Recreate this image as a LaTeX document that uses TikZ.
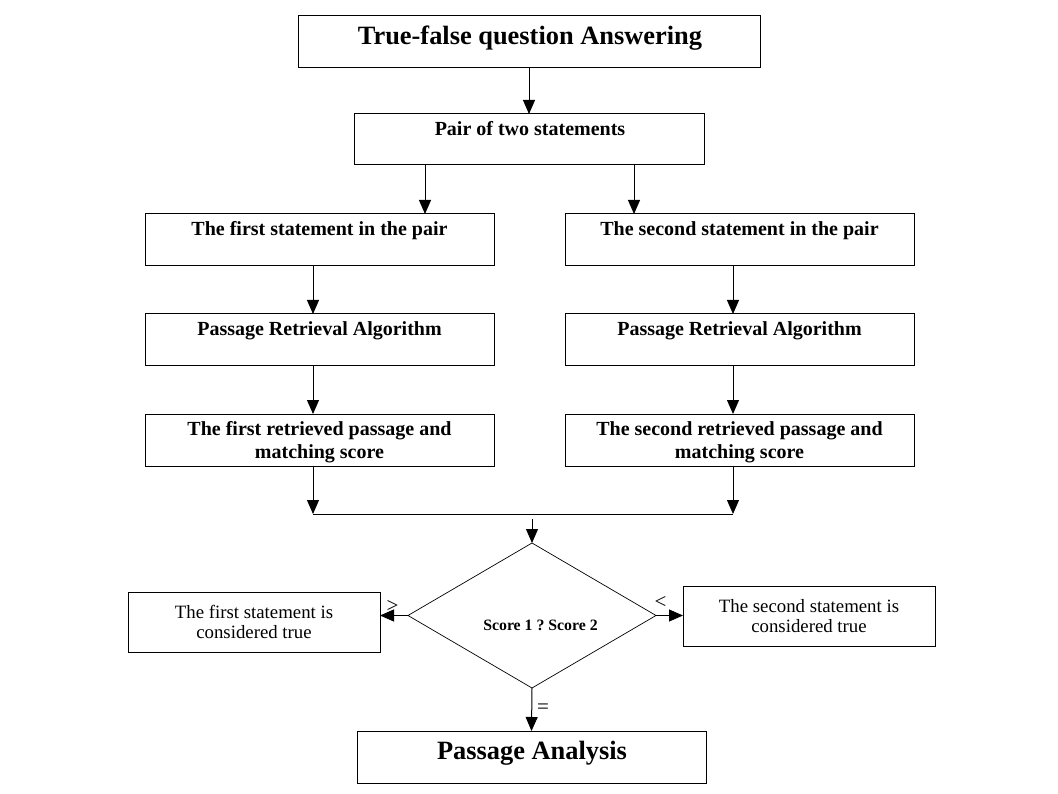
\documentclass[tikz,border=0pt]{standalone}
\usepackage{fontspec}
\setmainfont{Liberation Serif}
\usetikzlibrary{arrows.meta,shapes.geometric}
\frenchspacing
\begin{document}
\begin{tikzpicture}[x=1pt, y=-1pt, line width=1pt,
  >={Triangle[length=14pt,width=12pt]},
  box/.style={draw, rectangle, inner sep=0pt, outer sep=0pt, minimum width=#1, minimum height=52pt},
  box/.default=349pt,
  bigtxt/.style={font=\bfseries\fontsize{26.4}{30}\selectfont, anchor=base},
  boldtxt/.style={font=\bfseries\fontsize{20}{23}\selectfont, align=center, inner sep=0pt},
  plaintxt/.style={font=\fontsize{18.8}{20}\selectfont, align=center, inner sep=0pt},
  signtxt/.style={font=\fontsize{21}{22}\selectfont, inner sep=0pt}]
\useasboundingbox (0,0) rectangle (1058,794);
% boxes
\node[box=462pt] (title) at (529,42) {};
\node[box=350pt, minimum height=51pt] (pair) at (529,139.5) {};
\node[box] (f1) at (319.5,240) {};
\node[box] (s1) at (739.5,240) {};
\node[box] (f2) at (319.5,340) {};
\node[box] (s2) at (739.5,340) {};
\node[box] (f3) at (319.5,440) {};
\node[box] (s3) at (739.5,440) {};
\node[draw, diamond, inner sep=0pt, outer sep=0pt, line width=0.7pt,
  minimum width=248pt, minimum height=145pt] (d) at (532,615.5) {};
\node[box=252pt, minimum height=60pt] (t1) at (254,622) {};
\node[box=252pt, minimum height=60pt] (t2) at (809,616) {};
\node[box] (pa) at (531.5,757) {};
% texts
\node[bigtxt] (titletxt) at (530,45) {True-false question Answering};
\node[boldtxt, anchor=base] (pairtxt) at (530,135.5) {Pair of two statements};
\node[boldtxt, anchor=base] (f1txt) at (319.5,235.5) {The first statement in the pair};
\node[boldtxt, anchor=base] (s1txt) at (739.5,235.5) {The second statement in the pair};
\node[boldtxt, anchor=base] (f2txt) at (319.5,335.5) {Passage Retrieval Algorithm};
\node[boldtxt, anchor=base] (s2txt) at (739.5,335.5) {Passage Retrieval Algorithm};
\node[boldtxt] (f3txt) at (319.5,442.2) {The first retrieved passage and\\matching score};
\node[boldtxt] (s3txt) at (739.5,442.2) {The second retrieved passage and\\matching score};
\node[font=\bfseries\fontsize{15.8}{18}\selectfont, anchor=base] (dtxt) at (540.5,630) {Score 1 ? Score 2};
\node[plaintxt] (t1txt) at (254,621.5) {The first statement is\\considered true};
\node[plaintxt] (t2txt) at (809,616) {The second statement is\\considered true};
\node[bigtxt] (patxt) at (532,759) {Passage Analysis};
\node[signtxt] (gt) at (392.5,606) {>};
\node[signtxt] (lt) at (660.5,602) {<};
\node[signtxt] (eq) at (543,709) {=};
% connectors
\coordinate (pl) at (425,0);
\coordinate (pr) at (634,0);
\coordinate (cl) at (313,0);
\coordinate (cr) at (733,0);
\coordinate (m1) at (313,514);
\coordinate (m2) at (733,514);
\coordinate (m3) at (532,519);
\draw[->] (title) -- (pair);
\draw[->] (pair.south -| pl) -- (f1.north -| pl);
\draw[->] (pair.south -| pr) -- (s1.north -| pr);
\draw[->] (f1.south -| cl) -- (f2.north -| cl);
\draw[->] (s1.south -| cr) -- (s2.north -| cr);
\draw[->] (f2.south -| cl) -- (f3.north -| cl);
\draw[->] (s2.south -| cr) -- (s3.north -| cr);
\draw[->] (f3.south -| cl) -- (m1);
\draw[->] (s3.south -| cr) -- (m2);
\draw (m1) -- (m2);
\draw[->] (m3) -- (d.north);
\draw[->] (d.west) -- (d.west -| t1.east);
\draw[->] (d.east) -- (d.east -| t2.west);
\draw[->] (d.south) -- (pa.north);
\end{tikzpicture}
\end{document}
